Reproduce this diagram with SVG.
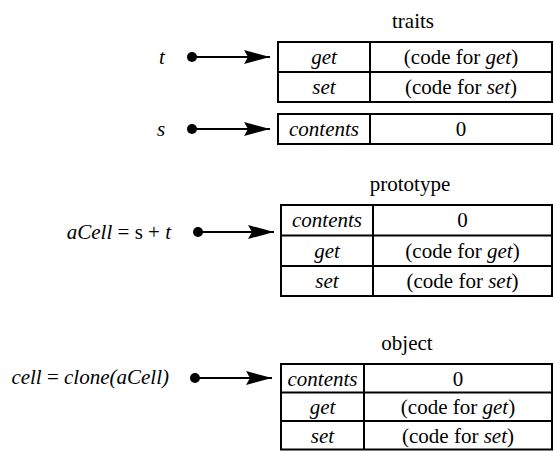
<svg xmlns="http://www.w3.org/2000/svg" width="555" height="451" viewBox="0 0 555 451">
<style>
text{font-family:"Liberation Serif","Times New Roman",serif;font-size:21px;fill:#000}
.i{font-style:italic}
.c{text-anchor:middle}
.e{text-anchor:end}
.tb{fill:#fff;stroke:#000;stroke-width:2}
.ln{stroke:#000;stroke-width:2;fill:none}
.sh{stroke:#000;stroke-width:2}
</style>
<defs>
<marker id="ah" viewBox="0 0 26 14" refX="26" refY="7" markerWidth="26" markerHeight="14" markerUnits="userSpaceOnUse" orient="auto">
<path d="M0,0 L26,7 L0,14 L4,7 Z" fill="#000"/>
</marker>
</defs>
<rect width="555" height="451" fill="#fff"/>

<g id="traits">
<text class="c" x="413" y="28">traits</text>
<rect class="tb" x="278" y="42" width="274" height="60"/>
<line class="ln" x1="278" y1="72" x2="552" y2="72"/>
<line class="ln" x1="370" y1="42" x2="370" y2="102"/>
<text class="c i" x="324" y="64">get</text>
<text class="c" x="461" y="64">(code for <tspan class="i">get</tspan>)</text>
<text class="c i" x="324" y="94">set</text>
<text class="c" x="461" y="94">(code for <tspan class="i">set</tspan>)</text>
</g>

<g id="s-obj">
<rect class="tb" x="278" y="114" width="274" height="30"/>
<line class="ln" x1="370" y1="114" x2="370" y2="144"/>
<text class="c i" x="324" y="136">contents</text>
<text class="c" x="461" y="136">0</text>
</g>

<g id="prototype">
<text class="c" x="410" y="191">prototype</text>
<rect class="tb" x="281" y="205" width="271" height="91"/>
<line class="ln" x1="281" y1="235.5" x2="552" y2="235.5"/>
<line class="ln" x1="281" y1="266" x2="552" y2="266"/>
<line class="ln" x1="373" y1="205" x2="373" y2="296"/>
<text class="c i" x="327" y="227">contents</text>
<text class="c" x="462.5" y="227">0</text>
<text class="c i" x="327" y="258">get</text>
<text class="c" x="462.5" y="258">(code for <tspan class="i">get</tspan>)</text>
<text class="c i" x="327" y="288">set</text>
<text class="c" x="462.5" y="288">(code for <tspan class="i">set</tspan>)</text>
</g>

<g id="object">
<text class="c" x="407" y="350">object</text>
<rect class="tb" x="281" y="364" width="271" height="85.5"/>
<line class="ln" x1="281" y1="392.5" x2="552" y2="392.5"/>
<line class="ln" x1="281" y1="421" x2="552" y2="421"/>
<line class="ln" x1="364" y1="364" x2="364" y2="449.5"/>
<text class="c i" x="322.5" y="386">contents</text>
<text class="c" x="458" y="386">0</text>
<text class="c i" x="322.5" y="414">get</text>
<text class="c" x="458" y="414">(code for <tspan class="i">get</tspan>)</text>
<text class="c i" x="322.5" y="443">set</text>
<text class="c" x="458" y="443">(code for <tspan class="i">set</tspan>)</text>
</g>

<g id="labels">
<text class="c i" x="162" y="64">t</text>
<text class="c i" x="161" y="136">s</text>
<text class="e" x="171" y="239"><tspan class="i">aCell</tspan> = s + <tspan class="i">t</tspan></text>
<text class="e" x="169" y="384"><tspan class="i">cell</tspan> = <tspan class="i">clone(aCell)</tspan></text>
</g>

<g id="connectors">
<circle cx="192" cy="57" r="5" fill="#000"/>
<line class="sh" x1="192" y1="57" x2="270" y2="57" marker-end="url(#ah)"/>
<circle cx="192" cy="129" r="5" fill="#000"/>
<line class="sh" x1="192" y1="129" x2="270" y2="129" marker-end="url(#ah)"/>
<circle cx="198" cy="232" r="5" fill="#000"/>
<line class="sh" x1="198" y1="232" x2="274" y2="232" marker-end="url(#ah)"/>
<circle cx="195" cy="378" r="5" fill="#000"/>
<line class="sh" x1="195" y1="378" x2="272" y2="378" marker-end="url(#ah)"/>
</g>
</svg>
